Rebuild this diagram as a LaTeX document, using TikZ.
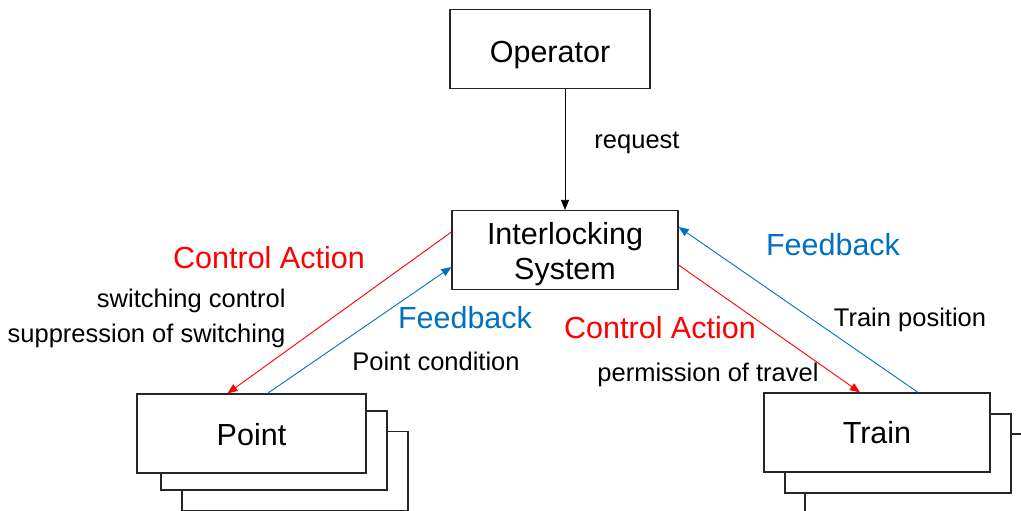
\documentclass[tikz,border=0pt]{standalone}
\usepackage{fontspec}
\setmainfont{Liberation Sans}
\usetikzlibrary{arrows.meta}
\definecolor{ctrlred}{RGB}{255,0,0}
\definecolor{fbblue}{RGB}{0,112,192}

\begin{document}
\begin{tikzpicture}[x=1pt,y=-1pt,
	box/.style={draw=black!85, line width=1.2pt, fill=white, inner sep=0pt, minimum height=79pt},
	big/.style={font=\fontsize{30.5}{35}\selectfont},
	small/.style={font=\fontsize{25.5}{35}\selectfont},
	link/.style={line width=0.9pt, -{Triangle[length=10pt,width=8pt]}}]
	\useasboundingbox (0,0) rectangle (1021,511);
	\clip (0,0) rectangle (1021,511);
	% operator and interlocking
	\node[box, big, minimum width=200pt, text height=28pt, text depth=0pt] (op) at (550,49) {Operator};
	\node[box, big, minimum width=226pt, align=center] (inter) at (565,250) {\raisebox{0pt}[30pt]{Interlocking}\\System};
	% stacked point boxes
	\node[box, minimum width=226pt] (point3) at (295,471) {};
	\node[box, minimum width=226pt] (point2) at (274,450.5) {};
	\node[box, big, minimum width=229pt, text height=25pt] (point) at (251.5,433.5) {Point};
	% stacked train boxes
	\node[box, minimum width=226pt] (train3) at (918,473.5) {};
	\node[box, minimum width=226pt] (train2) at (898,453.5) {};
	\node[box, big, minimum width=226pt] (train) at (877,432.5) {Train};
	% request
	\draw[link, line width=0.8pt] (op.south -| inter.north) -- (inter.north);
	\node[small] at (637,143) {request};
	% point side
	\draw[link, ctrlred] ([yshift=18pt]inter.west) -- ([xshift=-24pt]point.north);
	\draw[link, fbblue] ([xshift=16pt]point.north) -- ([yshift=-17pt]inter.west);
	\node[big, ctrlred] at (269,258) {Control Action};
	\node[small, anchor=east, align=right] at (289,318.5) {switching control\\suppression of switching};
	\node[big, fbblue] at (465,318) {Feedback};
	\node[small] at (436,361) {Point condition};
	% train side
	\draw[link, ctrlred] ([yshift=-15pt]inter.east) -- ([xshift=-17pt]train.north);
	\draw[link, fbblue] ([xshift=41pt]train.north) -- ([yshift=23pt]inter.east);
	\node[big, fbblue] at (833,245) {Feedback};
	\node[small] at (910,320) {Train position};
	\node[big, ctrlred] at (660,328) {Control Action};
	\node[small] at (708,375) {permission of travel};
\end{tikzpicture}
\end{document}
